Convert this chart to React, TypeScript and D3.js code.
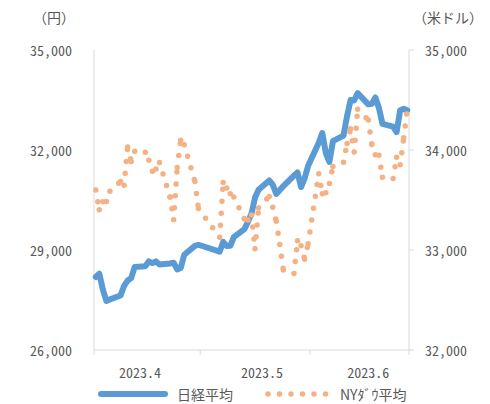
import React from "react";
import * as d3 from "d3";

// Japanese trading days (x categories)
const dates: string[] = [
  "2023-04-03","2023-04-04","2023-04-05","2023-04-06","2023-04-07","2023-04-10","2023-04-11","2023-04-12","2023-04-13","2023-04-14",
  "2023-04-17","2023-04-18","2023-04-19","2023-04-20","2023-04-21","2023-04-24","2023-04-25","2023-04-26","2023-04-27","2023-04-28",
  "2023-05-01","2023-05-02","2023-05-08","2023-05-09","2023-05-10","2023-05-11","2023-05-12","2023-05-15","2023-05-16","2023-05-17",
  "2023-05-18","2023-05-19","2023-05-22","2023-05-23","2023-05-24","2023-05-25","2023-05-26","2023-05-29","2023-05-30","2023-05-31",
  "2023-06-01","2023-06-02","2023-06-05","2023-06-06","2023-06-07","2023-06-08","2023-06-09","2023-06-12","2023-06-13","2023-06-14",
  "2023-06-15","2023-06-16","2023-06-19","2023-06-20","2023-06-21","2023-06-22","2023-06-23","2023-06-26","2023-06-27","2023-06-28",
  "2023-06-29","2023-06-30",
];

// 日経平均 (円)
const nikkei: number[] = [
  28188, 28287, 27813, 27473, 27518, 27634, 27923, 28083, 28157, 28493,
  28515, 28659, 28607, 28658, 28564, 28594, 28620, 28416, 28458, 28856,
  29123, 29158, 28950, 29243, 29122, 29127, 29388, 29626, 29843, 30094,
  30574, 30808, 31087, 30958, 30683, 30801, 30916, 31234, 31328, 30888,
  31148, 31524, 32217, 32507, 31914, 31641, 32265, 32434, 33019, 33502,
  33485, 33706, 33370, 33389, 33575, 33265, 32782, 32699, 32538, 33194,
  33234, 33189,
];

// NYダウ (米ドル)
const dow: number[] = [
  33601, 33402, 33483, 33485, 33587, 33685, 33647, 34030, 33886, 33987,
  33977, 33897, 33787, 33809, 33875, 33531, 33302, 33826, 34098, 34052,
  33685, 33414, 33128, 33674, 33619, 33562, 33531, 33310, 33301, 33349,
  33012, 33421, 33536, 33427, 33287, 33056, 32800, 32765, 33093, 33043,
  32908, 33062, 33763, 33563, 33573, 33665, 33834, 33877, 34066, 34212,
  33979, 34408, 34299, 34054, 33952, 33947, 33727, 33715, 33927, 33853,
  34122, 34408,
];

const leftTicks: number[] = [26000, 29000, 32000, 35000];
const rightTicks: number[] = [32000, 33000, 34000, 35000];
const xTickDates: string[] = ["2023-04-03", "2023-05-03", "2023-06-03", "2023-07-01"];
const monthLabels: string[] = ["2023.4", "2023.5", "2023.6"];
const monthLabelDates: string[] = ["2023-04-16T00:00", "2023-05-20T12:00", "2023-06-19T12:00"];
const seriesNames: string[] = ["日経平均", "NYﾀﾞｳ平均"];

const W = 490, H = 404;
const L = 94, R = 409, T = 50, B = 350;
const LEG_Y = 394;
const BLUE = "#5B9BD5";
const ORANGE = "#F4B183";
const GRID = "#D9D9D9";
const TXT = "#595959";
const FONT = '"Noto Sans CJK JP", sans-serif';

const parseD = d3.timeParse("%Y-%m-%d");
const parseDT = d3.timeParse("%Y-%m-%dT%H:%M");

export default function App() {
  const x = d3.scaleTime()
    .domain([parseD("2023-04-03")!, parseD("2023-07-01")!])
    .range([L, R]);
  const yL = d3.scaleLinear().domain([26000, 35000]).range([B, T]);
  const yR = d3.scaleLinear().domain([32000, 35000]).range([B, T]);

  const pts = dates.map((d) => d3.timeHour.offset(parseD(d)!, 12));
  const nikkeiLine = d3.line<number>()
    .x((_, i) => x(pts[i]))
    .y((v) => yL(v))(nikkei) || "";

  const segLine = d3.line<[Date, number]>().x((p) => x(p[0])).y((p) => yR(p[1]));
  const dowSegs: string[] = [];
  for (let i = 0; i < dow.length - 1; i++) {
    dowSegs.push(segLine([[pts[i], dow[i]], [pts[i + 1], dow[i + 1]]]) || "");
  }

  const textStyle: React.CSSProperties = { fontFeatureSettings: '"hwid"' };

  return (
    <svg width={W} height={H} style={{ position: "absolute", left: 0, top: 0, background: "#fff" }} fontFamily={FONT}>
      {/* axes */}
      <line x1={L} x2={L} y1={T} y2={B} stroke={GRID} strokeWidth={1} />
      <line x1={R} x2={R} y1={T} y2={B} stroke={GRID} strokeWidth={1} />
      <line x1={L} x2={R} y1={B} y2={B} stroke={GRID} strokeWidth={1} />
      {rightTicks.map((t) => (
        <line key={"rt" + t} x1={R} x2={R + 5} y1={yR(t)} y2={yR(t)} stroke={GRID} strokeWidth={1} />
      ))}
      {xTickDates.map((d) => (
        <line key={"xt" + d} x1={x(parseD(d)!)} x2={x(parseD(d)!)} y1={B} y2={B + 5} stroke={GRID} strokeWidth={1} />
      ))}
      {/* tick labels */}
      {leftTicks.map((t) => (
        <text key={"lt" + t} x={72} y={yL(t)} textAnchor="end" dominantBaseline="central" fontSize={14} fill={TXT} style={textStyle}>
          {d3.format(",")(t)}
        </text>
      ))}
      {rightTicks.map((t) => (
        <text key={"rl" + t} x={425} y={yR(t)} textAnchor="start" dominantBaseline="central" fontSize={14} fill={TXT} style={textStyle}>
          {d3.format(",")(t)}
        </text>
      ))}
      {monthLabels.map((m, i) => (
        <text key={m} x={x(parseDT(monthLabelDates[i])!)} y={372} textAnchor="middle" dominantBaseline="central" fontSize={14} fill={TXT} style={textStyle}>
          {m}
        </text>
      ))}
      <text x={54} y={17} textAnchor="middle" dominantBaseline="central" fontSize={14} fill={TXT}>（円）</text>
      <text x={448} y={17} textAnchor="middle" dominantBaseline="central" fontSize={14} fill={TXT}>（米ドル）</text>

      {/* series */}
      <path d={nikkeiLine} fill="none" stroke={BLUE} strokeWidth={6} strokeLinejoin="round" strokeLinecap="round" />
      {dowSegs.map((d, i) => (
        <path key={"ds" + i} d={d} fill="none" stroke={ORANGE} strokeWidth={5.5} strokeLinecap="round" strokeDasharray="0 12" />
      ))}

      {/* legend */}
      <line x1={101} x2={165} y1={LEG_Y} y2={LEG_Y} stroke={BLUE} strokeWidth={6} strokeLinecap="round" />
      <text x={177} y={LEG_Y} dominantBaseline="central" fontSize={14} fill={TXT}>{seriesNames[0]}</text>
      <line x1={268} x2={337} y1={LEG_Y} y2={LEG_Y} stroke={ORANGE} strokeWidth={5.5} strokeLinecap="round" strokeDasharray="0 11.5" />
      <text x={340} y={LEG_Y} dominantBaseline="central" fontSize={14} fill={TXT}>{seriesNames[1]}</text>
    </svg>
  );
}
